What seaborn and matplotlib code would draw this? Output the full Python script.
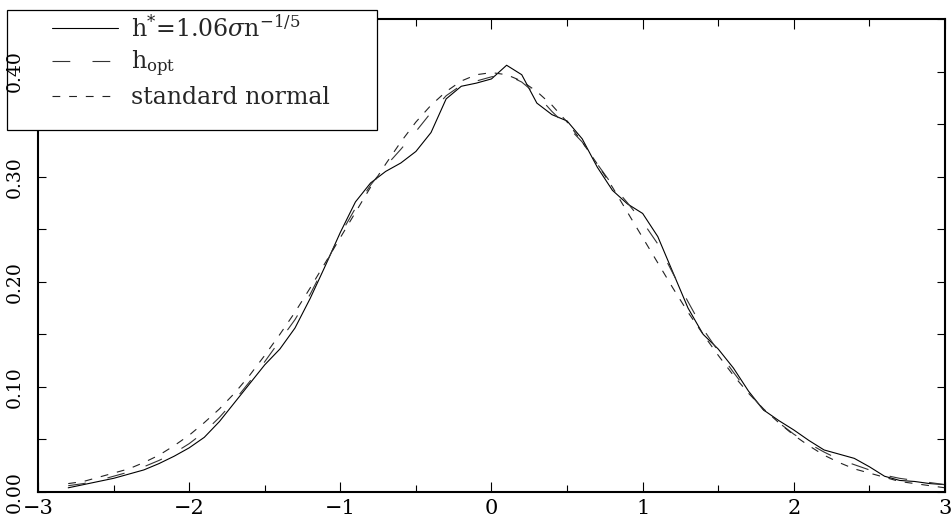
import numpy as np
import pandas as pd
import matplotlib

matplotlib.use('Agg')
import matplotlib.pyplot as plt
import seaborn as sns
from matplotlib.patches import Rectangle
from matplotlib.ticker import MultipleLocator, FixedLocator

# x grid of the curves (step 0.1)
x_vals = [round(-2.8 + 0.1 * i, 1) for i in range(59)]

# kernel estimate with h* = 1.06 sigma n^-1/5 (solid, wiggly)
h_star = [0.004, 0.007, 0.010, 0.013, 0.017, 0.021, 0.027, 0.034, 0.042, 0.052,
          0.067, 0.085, 0.103, 0.121, 0.136, 0.156, 0.184, 0.215, 0.247, 0.276,
          0.294, 0.305, 0.313, 0.324, 0.342, 0.374, 0.386, 0.389, 0.393, 0.406,
          0.397, 0.370, 0.359, 0.353, 0.336, 0.309, 0.287, 0.274, 0.265, 0.243,
          0.209, 0.175, 0.150, 0.136, 0.118, 0.096, 0.078, 0.068, 0.059, 0.049,
          0.040, 0.036, 0.032, 0.024, 0.015, 0.011, 0.010, 0.008, 0.007]

# kernel estimate with h_opt (long dashes, smoother)
h_opt = [0.006, 0.008, 0.011, 0.015, 0.019, 0.024, 0.030, 0.037, 0.046, 0.057,
         0.071, 0.087, 0.105, 0.124, 0.144, 0.164, 0.188, 0.216, 0.245, 0.270,
         0.292, 0.310, 0.326, 0.343, 0.361, 0.377, 0.387, 0.391, 0.395, 0.397,
         0.390, 0.378, 0.362, 0.348, 0.333, 0.312, 0.292, 0.275, 0.257, 0.236,
         0.208, 0.181, 0.155, 0.134, 0.114, 0.095, 0.078, 0.066, 0.055, 0.046,
         0.038, 0.031, 0.026, 0.021, 0.016, 0.013, 0.011, 0.009, 0.007]

# standard normal density (short dashes)
std_normal = [0.008, 0.010, 0.014, 0.018, 0.022, 0.028, 0.035, 0.044, 0.054, 0.066,
              0.079, 0.094, 0.111, 0.130, 0.150, 0.171, 0.194, 0.218, 0.242, 0.266,
              0.290, 0.312, 0.333, 0.352, 0.368, 0.381, 0.391, 0.397, 0.399, 0.397,
              0.391, 0.381, 0.368, 0.352, 0.333, 0.312, 0.290, 0.266, 0.242, 0.218,
              0.194, 0.171, 0.150, 0.130, 0.111, 0.094, 0.079, 0.066, 0.054, 0.044,
              0.035, 0.028, 0.022, 0.018, 0.014, 0.010, 0.008, 0.006, 0.004]

labels = [r'h$^{*}$=1.06$\sigma$n$^{-1/5}$', r'h$_{\mathrm{opt}}$', 'standard normal']
x_ticks = [-3, -2, -1, 0, 1, 2, 3]
y_ticks = [0.0, 0.1, 0.2, 0.3, 0.4]
y_minor = [0.05, 0.15, 0.25, 0.35, 0.45]

sns.set_style('ticks')
plt.rcParams['font.family'] = ['DejaVu Serif']
plt.rcParams['mathtext.fontset'] = 'dejavuserif'

fig = plt.figure(figsize=(9.51, 5.25), dpi=100)
ax = fig.add_axes([38 / 951, 33 / 525, 907 / 951, 473 / 525])

lw = 0.8
sns.lineplot(x=x_vals, y=h_star, ax=ax, color='black', lw=lw, label=labels[0])
sns.lineplot(x=x_vals, y=h_opt, ax=ax, color='#333333', lw=lw,
             linestyle=(0, (16, 20)), label=labels[1])
sns.lineplot(x=x_vals, y=std_normal, ax=ax, color='#222222', lw=lw,
             linestyle=(0, (7, 8)), label=labels[2])

ax.set_xlim(-3, 3)
ax.set_ylim(0, 0.45)
ax.set_xticks(x_ticks)
ax.set_xticklabels(['\u22123', '\u22122', '\u22121', '0', '1', '2', '3'])
ax.xaxis.set_minor_locator(MultipleLocator(0.5))
ax.set_yticks(y_ticks)
ax.set_yticklabels([f'{v:.2f}' for v in y_ticks], rotation=90, va='center')
ax.yaxis.set_minor_locator(FixedLocator(y_minor))
ax.set_xlabel('')
ax.set_ylabel('')

ax.tick_params(which='both', direction='in', top=True, right=True, width=0.8,
               colors='black')
ax.tick_params(axis='x', which='major', length=7, pad=5, labelsize=15)
ax.tick_params(axis='x', which='minor', length=5)
ax.tick_params(axis='y', which='both', length=6, pad=10.5, labelsize=13.5)
for sp in ax.spines.values():
    sp.set_linewidth(1.5)
    sp.set_color('black')

# legend frame sits partly outside the axes, over the frame;
# the y tick labels stay on top of it (0.40 shows inside the box)
frame = Rectangle((7 / 951, 1 - 130 / 525), 370 / 951, 120 / 525,
                  transform=fig.transFigure, facecolor='white', edgecolor='black',
                  lw=0.9, zorder=4.5, clip_on=False)
ax.add_patch(frame)
ax.yaxis.set_zorder(4.6)
ax.yaxis.get_major_ticks()[4].tick1line.set_visible(False)
minor_ticks = ax.yaxis.get_minor_ticks()
minor_ticks[3].tick1line.set_visible(False)
minor_ticks[4].tick1line.set_visible(False)

ax.legend(loc='upper left', bbox_to_anchor=(52 / 951, 1 - 15 / 525),
          bbox_transform=fig.transFigure, frameon=False, fontsize=17,
          handlelength=2.8, handletextpad=0.55, labelspacing=0.3,
          borderpad=0, borderaxespad=0)

fig.savefig('out.png', dpi=100)
plt.close(fig)
